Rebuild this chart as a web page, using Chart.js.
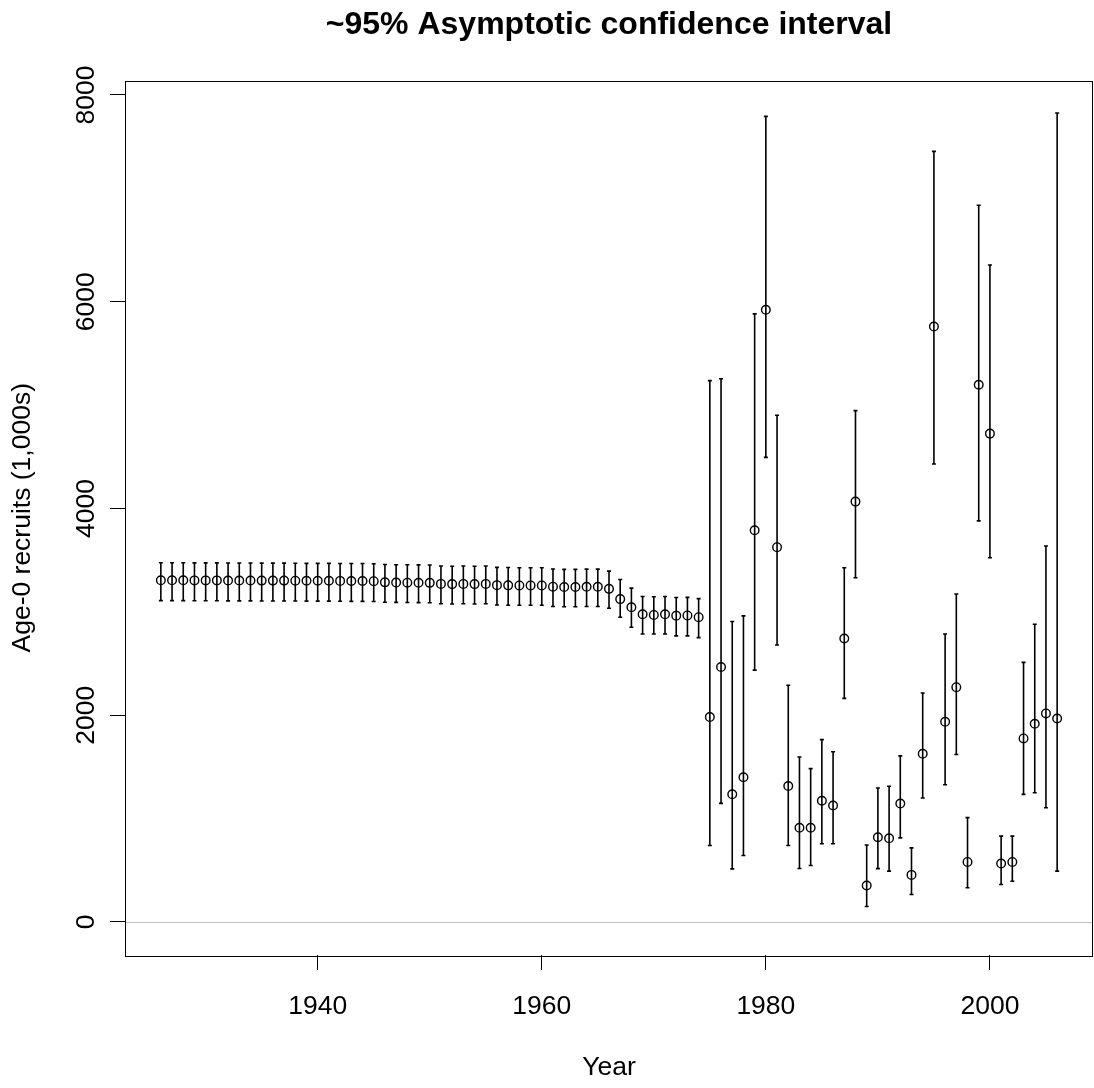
<!DOCTYPE html>
<html><head><meta charset="utf-8">
<script src="https://cdn.jsdelivr.net/npm/chart.js@4/dist/chart.umd.min.js"></script>
<style>html,body{margin:0;padding:0;background:#fff;}canvas{display:block;}</style>
</head><body>
<canvas id="c" width="1094" height="1088"></canvas>
<script>
const years = [1926,1927,1928,1929,1930,1931,1932,1933,1934,1935,
  1936,1937,1938,1939,1940,1941,1942,1943,1944,1945,
  1946,1947,1948,1949,1950,1951,1952,1953,1954,1955,
  1956,1957,1958,1959,1960,1961,1962,1963,1964,1965,
  1966,1967,1968,1969,1970,1971,1972,1973,1974,1975,
  1976,1977,1978,1979,1980,1981,1982,1983,1984,1985,
  1986,1987,1988,1989,1990,1991,1992,1993,1994,1995,
  1996,1997,1998,1999,2000,2001,2002,2003,2004,2005,
  2006];
const recruits = [3305,3305,3305,3304,3304,3304,3303,3303,3303,3302,
  3302,3302,3301,3300,3300,3300,3299,3298,3298,3296,
  3285,3283,3282,3281,3280,3270,3268,3270,3268,3270,
  3258,3256,3255,3255,3255,3243,3240,3240,3242,3242,
  3222,3123,3044,2976,2970,2976,2963,2965,2948,1982,
  2466,1235,1399,3789,5922,3625,1315,911,911,1172,
  1126,2742,4066,352,819,809,1145,455,1627,5760,
  1936,2271,580,5196,4724,565,580,1775,1917,2017,
  1968];
const upperCI = [3474,3474,3474,3473,3473,3473,3472,3472,3472,3471,
  3471,3471,3470,3469,3469,3469,3468,3467,3467,3465,
  3458,3456,3455,3454,3453,3443,3441,3443,3441,3443,
  3430,3428,3427,3427,3427,3414,3411,3411,3413,3413,
  3394,3312,3229,3148,3146,3148,3138,3140,3128,5237,
  5254,2906,2961,5882,7793,4901,2290,1596,1483,1764,
  1646,3427,4946,744,1295,1313,1606,716,2214,7454,
  2786,3172,1009,6933,6355,830,830,2511,2879,3637,
  7826];
const lowerCI = [3108,3108,3108,3107,3107,3107,3106,3106,3106,3105,
  3105,3105,3104,3103,3103,3103,3102,3101,3101,3100,
  3093,3091,3090,3089,3088,3078,3076,3078,3076,3078,
  3066,3064,3063,3063,3063,3052,3049,3049,3051,3051,
  3035,2947,2850,2785,2785,2785,2767,2767,2750,740,
  1147,513,643,2436,4494,2679,740,517,546,756,
  756,2163,3330,149,516,491,813,266,1199,4430,
  1327,1620,330,3880,3523,362,394,1234,1249,1105,
  491];
const xTicks = [1940,1960,1980,2000];
const yTicks = [0,2000,4000,6000,8000];
const titleText = '~95% Asymptotic confidence interval';
const xTitle = 'Year';
const yTitle = 'Age-0 recruits (1,000s)';

const FONT = '"Liberation Sans", Arial, Helvetica, sans-serif';
const BASE = 26.5;

const rPlugin = {
  id: 'rplot',
  beforeDatasetsDraw(chart) {
    const {ctx, chartArea: a, scales: {x, y}} = chart;
    ctx.save();
    const y0 = Math.round(y.getPixelForValue(0)) + 0.5;
    ctx.strokeStyle = '#bebebe';
    ctx.lineWidth = 1;
    ctx.beginPath(); ctx.moveTo(a.left, y0); ctx.lineTo(a.right, y0); ctx.stroke();
    ctx.strokeStyle = '#000';
    ctx.lineWidth = 1.6;
    for (let i = 0; i < years.length; i++) {
      const px = x.getPixelForValue(years[i]);
      const pu = y.getPixelForValue(upperCI[i]);
      const pl = y.getPixelForValue(lowerCI[i]);
      ctx.beginPath();
      ctx.moveTo(px, pu); ctx.lineTo(px, pl);
      ctx.moveTo(px - 2, pu); ctx.lineTo(px + 2, pu);
      ctx.moveTo(px - 2, pl); ctx.lineTo(px + 2, pl);
      ctx.stroke();
    }
    ctx.restore();
  },
  afterDraw(chart) {
    const {ctx, chartArea: a, scales: {y}} = chart;
    ctx.save();
    ctx.strokeStyle = '#000';
    ctx.lineWidth = 1;
    ctx.strokeRect(Math.round(a.left) + 0.5, Math.round(a.top) + 0.5,
      Math.round(a.right - a.left) - 1, Math.round(a.bottom - a.top));
    ctx.fillStyle = '#000';
    ctx.font = 'bold 32px ' + FONT;
    ctx.textAlign = 'center';
    ctx.textBaseline = 'alphabetic';
    ctx.fillText(titleText, (a.left + a.right) / 2, 34);
    ctx.font = BASE + 'px ' + FONT;
    yTicks.forEach(v => {
      const py = y.getPixelForValue(v);
      ctx.save();
      ctx.translate(94, py);
      ctx.rotate(-Math.PI / 2);
      ctx.fillText(String(v), 0, 0);
      ctx.restore();
    });
    ctx.restore();
  }
};

new Chart(document.getElementById('c'), {
  type: 'scatter',
  data: {
    datasets: [{
      data: years.map((yr, i) => ({x: yr, y: recruits[i]})),
      pointStyle: 'circle',
      pointRadius: 4.3,
      pointHoverRadius: 4.3,
      borderColor: '#000',
      borderWidth: 1.4,
      backgroundColor: 'rgba(0,0,0,0)',
      showLine: false
    }]
  },
  options: {
    responsive: false,
    animation: false,
    events: [],
    layout: {autoPadding: false, padding: {left: 0, right: 1, top: 80.5, bottom: 0}},
    plugins: {
      legend: {display: false},
      tooltip: {enabled: false},
      title: {display: false}
    },
    scales: {
      x: {
        type: 'linear',
        min: 1922.8,
        max: 2009.2,
        afterBuildTicks: s => { s.ticks = xTicks.map(v => ({value: v})); },
        afterFit: s => { s.height = 133; },
        border: {display: false},
        grid: {display: true, drawOnChartArea: false, drawTicks: true, tickLength: 15, color: '#000', lineWidth: 1},
        ticks: {color: '#000', font: {family: FONT, size: BASE}, padding: 21, maxRotation: 0, autoSkip: false,
          callback: v => String(v)},
        title: {display: true, text: xTitle, color: '#000', font: {family: FONT, size: BASE}, padding: {top: 0, bottom: 4}}
      },
      y: {
        type: 'linear',
        min: -320,
        max: 8140,
        afterBuildTicks: s => { s.ticks = yTicks.map(v => ({value: v})); },
        afterFit: s => { s.width = 125; },
        border: {display: false},
        grid: {display: true, drawOnChartArea: false, drawTicks: true, tickLength: 15, color: '#000', lineWidth: 1},
        ticks: {display: false},
        title: {display: true, text: yTitle, color: '#000', font: {family: FONT, size: BASE}, padding: {top: 7, bottom: 0}}
      }
    }
  },
  plugins: [rPlugin]
});
</script>
</body></html>
